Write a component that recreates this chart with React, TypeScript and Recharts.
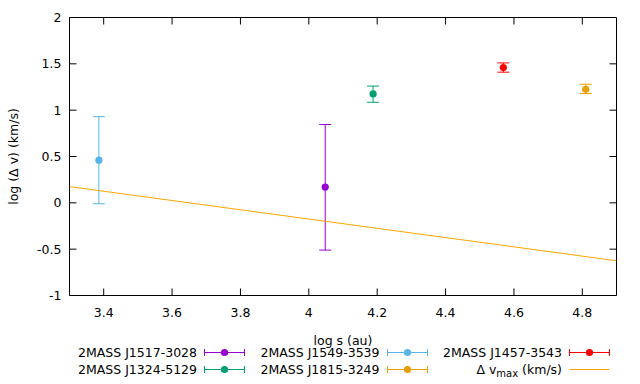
import React from 'react';
import { ComposedChart, Scatter, XAxis, YAxis, ErrorBar, Label } from 'recharts';

// ---- data ----
const xTicks = [3.4, 3.6, 3.8, 4.0, 4.2, 4.4, 4.6, 4.8];
const yTicks = [-1, -0.5, 0, 0.5, 1, 1.5, 2];
const xDomain = [3.3, 4.9];
const yDomain = [-1, 2];

const j1517 = [{ x: 4.048, y: 0.17, err: [0.68, 0.675] }];
const j1324 = [{ x: 4.188, y: 1.175, err: [0.09, 0.085] }];
const j1549 = [{ x: 3.386, y: 0.46, err: [0.47, 0.47] }];
const j1815 = [{ x: 4.81, y: 1.225, err: [0.045, 0.055] }];
const j1457 = [{ x: 4.569, y: 1.46, err: [0.05, 0.05] }];
const dvmax = [{ x: 3.3, y: 0.175 }, { x: 4.9, y: -0.625 }];

const seriesList = [
  { key: 'j1517', name: '2MASS J1517-3028', color: '#9400d3', data: j1517 },
  { key: 'j1324', name: '2MASS J1324-5129', color: '#009e73', data: j1324 },
  { key: 'j1549', name: '2MASS J1549-3539', color: '#56b4e9', data: j1549 },
  { key: 'j1815', name: '2MASS J1815-3249', color: '#e69f00', data: j1815 },
  { key: 'j1457', name: '2MASS J1457-3543', color: '#ff0000', data: j1457 },
];
const lineColor = '#ffa500';

// mirrored tick positions (top border and right border)
const topTickPts = xTicks.map((t) => ({ x: t, y: yDomain[1] }));
const rightTickPts = yTicks.map((t) => ({ x: xDomain[1], y: t }));

const FONT = "'DejaVu Sans', sans-serif";
const FS = 12.5;
const TICK = 7;

// legend layout: row-major, three columns
const legendOrder = ['j1517', 'j1549', 'j1457', 'j1324', 'j1815', 'dv'];
const colTextEnd = [197, 379.5, 562];
const rowY = [352.7, 369.5];

const Dot = (color: string) => (props: any) => {
  const { cx, cy } = props;
  if (cx == null || cy == null) return <g />;
  return <circle cx={cx} cy={cy} r={3.6} fill={color} />;
};

const TopTick = (props: any) => {
  const { cx, cy } = props;
  if (cx == null || cy == null) return <g />;
  return <line x1={cx} x2={cx} y1={cy} y2={cy + TICK} stroke="#000" strokeWidth={1} />;
};
const RightTick = (props: any) => {
  const { cx, cy } = props;
  if (cx == null || cy == null) return <g />;
  return <line x1={cx} x2={cx - TICK} y1={cy} y2={cy} stroke="#000" strokeWidth={1} />;
};

const LegendSample = ({ color, err }: { color: string; err: boolean }) => (
  <svg width={41} height={17} style={{ display: 'block' }}>
    <line x1={0.5} x2={40.5} y1={8.5} y2={8.5} stroke={color} strokeWidth={1} />
    {err && (
      <>
        <line x1={0.5} x2={0.5} y1={5} y2={12} stroke={color} strokeWidth={1} />
        <line x1={40.5} x2={40.5} y1={5} y2={12} stroke={color} strokeWidth={1} />
        <circle cx={20.5} cy={8.5} r={3.6} fill={color} />
      </>
    )}
  </svg>
);

export default function App() {
  return (
    <div
      style={{
        position: 'absolute',
        left: 0,
        top: 0,
        width: 640,
        height: 384,
        background: '#fff',
        fontFamily: FONT,
        fontSize: FS,
      }}
    >
      <ComposedChart
        width={640}
        height={384}
        margin={{ top: 16.5, right: 22.5, bottom: 58.5, left: 0 }}
      >
        <XAxis
          xAxisId="b"
          type="number"
          dataKey="x"
          domain={xDomain}
          ticks={xTicks}
          allowDataOverflow
          orientation="bottom"
          height={30}
          tickSize={-7}
          tickMargin={20}
          stroke="#000"
          axisLine={{ stroke: '#000' }}
          tickLine={{ stroke: '#000' }}
          tick={{ fill: '#000', fontSize: FS, fontFamily: FONT }}
          tickFormatter={(v: number) => String(v)}
        >
          <Label
            value="log s (au)"
            position="bottom"
            offset={10.5}
            style={{ fill: '#000', fontSize: FS, fontFamily: FONT }}
          />
        </XAxis>
        <XAxis
          xAxisId="t"
          type="number"
          dataKey="x"
          domain={xDomain}
          allowDataOverflow
          orientation="top"
          height={1}
          axisLine={{ stroke: '#000' }}
          tickLine={false}
          tick={false}
        />
        <YAxis
          yAxisId="l"
          type="number"
          dataKey="y"
          domain={yDomain}
          ticks={yTicks}
          allowDataOverflow
          orientation="left"
          width={69.5}
          tickSize={-7}
          tickMargin={15}
          axisLine={{ stroke: '#000' }}
          tickLine={{ stroke: '#000' }}
          tick={{ fill: '#000', fontSize: FS, fontFamily: FONT }}
          tickFormatter={(v: number) => String(v)}
        >
          <Label
            value="log (Δ v) (km/s)"
            angle={-90}
            position="center"
            dx={-21}
            style={{ fill: '#000', fontSize: FS, fontFamily: FONT, textAnchor: 'middle' }}
          />
        </YAxis>
        <YAxis
          yAxisId="r"
          type="number"
          dataKey="y"
          domain={yDomain}
          allowDataOverflow
          orientation="right"
          width={1}
          axisLine={{ stroke: '#000' }}
          tickLine={false}
          tick={false}
        />
        {/* mirrored tick marks on the top and right borders */}
        <Scatter
          xAxisId="b"
          yAxisId="l"
          data={topTickPts}
          dataKey="y"
          shape={TopTick}
          isAnimationActive={false}
        />
        <Scatter
          xAxisId="b"
          yAxisId="l"
          data={rightTickPts}
          dataKey="y"
          shape={RightTick}
          isAnimationActive={false}
        />
        <Scatter
          xAxisId="b"
          yAxisId="l"
          data={dvmax}
          dataKey="y"
          name="dv"
          line={{ stroke: lineColor, strokeWidth: 1 }}
          shape={() => <g />}
          isAnimationActive={false}
        />
        {seriesList.map((s) => (
          <Scatter
            key={s.key}
            xAxisId="b"
            yAxisId="l"
            data={s.data}
            dataKey="y"
            name={s.name}
            fill={s.color}
            shape={Dot(s.color)}
            isAnimationActive={false}
          >
            <ErrorBar
              dataKey="err"
              direction="y"
              width={6}
              stroke={s.color}
              strokeWidth={1}
              isAnimationActive={false}
            />
          </Scatter>
        ))}
      </ComposedChart>
      {legendOrder.map((k, i) => {
        const col = i % 3;
        const row = Math.floor(i / 3);
        const s = seriesList.find((e) => e.key === k);
        const top = rowY[row] - 8.5;
        const end = colTextEnd[col];
        return (
          <React.Fragment key={k}>
            <div
              style={{
                position: 'absolute',
                right: 640 - end,
                top,
                height: 17,
                lineHeight: '17px',
                whiteSpace: 'nowrap',
                color: '#000',
              }}
            >
              {s ? (
                s.name
              ) : (
                <span>
                  Δ v<sub style={{ fontSize: 10, verticalAlign: '-3px', lineHeight: 0 }}>max</sub> (km/s)
                </span>
              )}
            </div>
            <div style={{ position: 'absolute', left: end + 7, top }}>
              <LegendSample color={s ? s.color : lineColor} err={!!s} />
            </div>
          </React.Fragment>
        );
      })}
    </div>
  );
}
